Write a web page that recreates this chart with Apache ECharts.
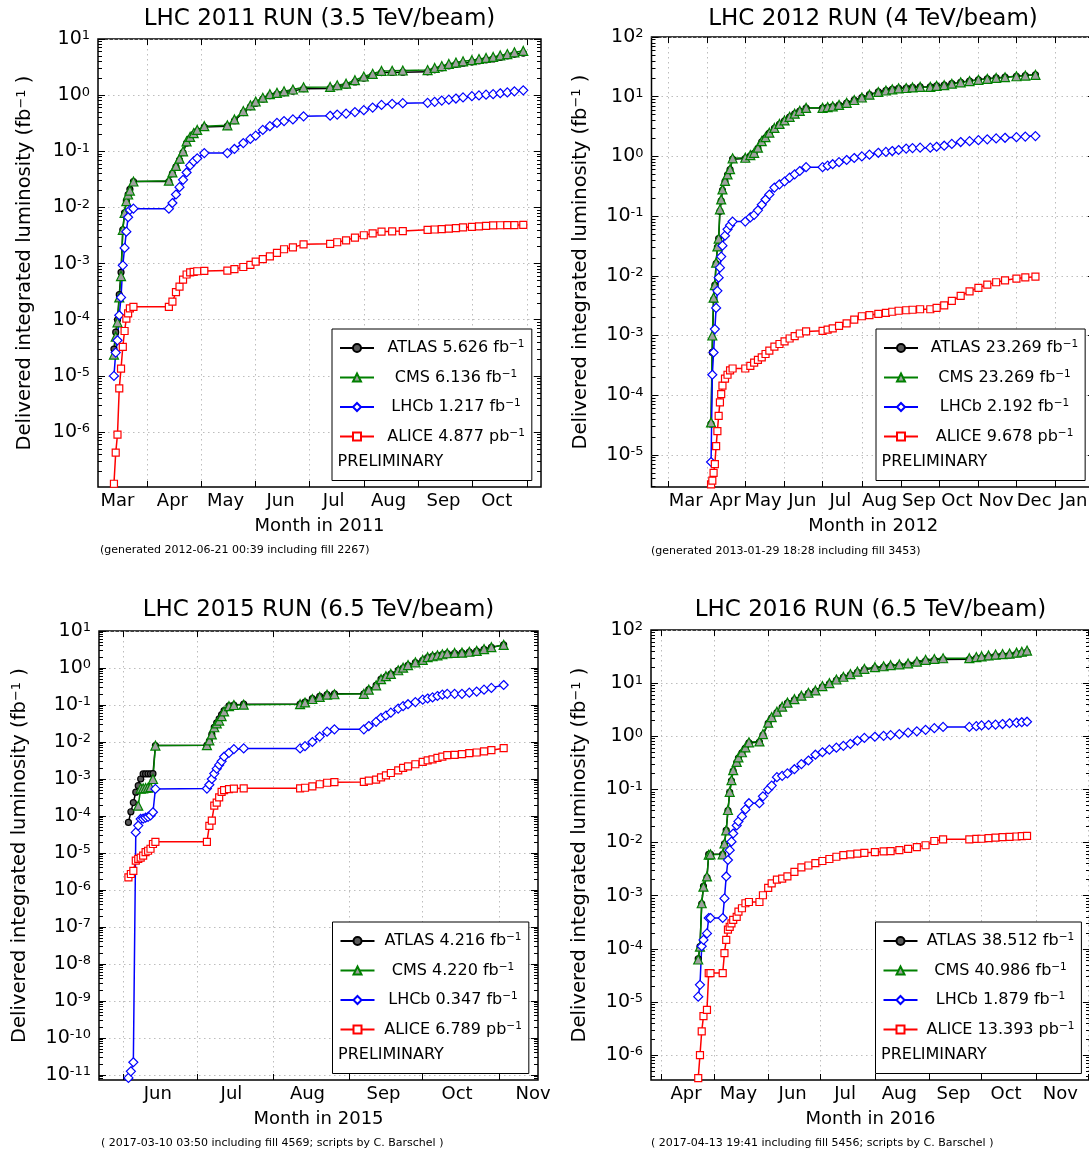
<!DOCTYPE html>
<html>
<head>
<meta charset="utf-8">
<title>LHC delivered integrated luminosity</title>
<script src="https://cdn.jsdelivr.net/npm/echarts@6/dist/echarts.min.js"></script>
<style>
html, body { margin: 0; padding: 0; background: #fff; }
#main { width: 1089px; height: 1153px; }
</style>
</head>
<body>
<div id="main"></div>
<script>
var MONTHS = ['Jan', 'Feb', 'Mar', 'Apr', 'May', 'Jun', 'Jul', 'Aug', 'Sep', 'Oct', 'Nov', 'Dec'];
var FONT = "'DejaVu Sans', sans-serif";

// fill dates (MM-DD) and cumulative delivered luminosity (fb^-1)
var days2011 = ['03-13','03-14','03-15','03-16','03-17','03-18','03-19','03-20','03-21','03-22','03-24',
    '04-13','04-15','04-17','04-19','04-21','04-23','04-25','04-27','04-29','05-03',
    '05-16','05-20','05-25','05-29','06-01','06-05','06-09','06-13','06-17','06-22','06-28',
    '07-13','07-17','07-22','07-27','08-01','08-06','08-11','08-17','08-23',
    '09-06','09-10','09-14','09-18','09-22','09-26','10-01','10-05','10-09','10-13','10-17','10-21','10-25','10-30'];
var atlas2011 = [3e-5,6e-5,1e-4,2.8e-4,7e-4,4e-3,8e-3,1.3e-2,1.7e-2,2.1e-2,2.9e-2,
    2.9e-2,4e-2,5.3e-2,7e-2,0.095,0.14,0.17,0.2,0.23,0.27,
    0.28,0.35,0.49,0.62,0.72,0.85,0.98,1.04,1.1,1.18,1.3,
    1.32,1.41,1.5,1.72,2.0,2.25,2.52,2.54,2.57,
    2.6,2.83,3.06,3.33,3.52,3.7,3.88,4.06,4.24,4.42,4.7,4.98,5.33,5.626];
var cms2011 = [2.4e-5,5e-5,9e-5,2.5e-4,6e-4,4e-3,8e-3,1.3e-2,1.7e-2,2e-2,2.9e-2,
    3.0e-2,4.2e-2,5.5e-2,7.4e-2,0.1,0.15,0.18,0.21,0.24,0.28,
    0.29,0.37,0.52,0.66,0.77,0.9,1.04,1.1,1.17,1.26,1.38,
    1.4,1.5,1.6,1.85,2.15,2.4,2.7,2.72,2.75,
    2.8,3.05,3.3,3.6,3.8,4.0,4.2,4.4,4.6,4.8,5.1,5.4,5.8,6.136];
var lhcb2011 = [1e-5,2.6e-5,4.3e-5,1.2e-4,2.5e-4,9.3e-4,1.9e-3,3.7e-3,6.7e-3,9e-3,9.5e-3,
    9.5e-3,0.012,0.017,0.023,0.031,0.042,0.056,0.066,0.075,0.093,
    0.093,0.11,0.14,0.166,0.19,0.24,0.28,0.32,0.345,0.37,0.42,
    0.43,0.45,0.47,0.5,0.54,0.6,0.67,0.7,0.72,
    0.73,0.76,0.8,0.83,0.87,0.91,0.96,0.99,1.02,1.04,1.08,1.12,1.17,1.217];
var alice2011 = [1.2e-7,4.3e-7,9e-7,6e-6,1.35e-5,3.3e-5,6.3e-5,1.05e-4,1.3e-4,1.6e-4,1.7e-4,
    1.7e-4,2.1e-4,3.1e-4,3.9e-4,5.2e-4,6.4e-4,7e-4,7.1e-4,7.3e-4,7.4e-4,
    7.5e-4,8e-4,8.7e-4,9.5e-4,1.08e-3,1.2e-3,1.35e-3,1.55e-3,1.8e-3,1.95e-3,2.2e-3,
    2.25e-3,2.4e-3,2.6e-3,2.9e-3,3.2e-3,3.45e-3,3.7e-3,3.75e-3,3.8e-3,
    4.0e-3,4.05e-3,4.1e-3,4.2e-3,4.3e-3,4.4e-3,4.5e-3,4.6e-3,4.7e-3,4.8e-3,4.82e-3,4.84e-3,4.86e-3,4.877e-3];
var names2011 = ['ATLAS 5.626 fb', 'CMS 6.136 fb', 'LHCb 1.217 fb', 'ALICE 4.877 pb'];

var days2012 = ['04-04','04-05','04-06','04-07','04-08','04-09','04-10','04-11','04-12','04-13',
    '04-15','04-17','04-19','04-21','05-01','05-05','05-08','05-11','05-14','05-17',
    '05-20','05-24','05-28','06-01','06-05','06-09','06-13','06-18','07-01','07-05',
    '07-09','07-14','07-20','07-26','08-01','08-07','08-14','08-20','08-25','08-30',
    '09-05','09-10','09-16','09-24','09-29','10-05','10-11','10-18','10-25','11-01',
    '11-08','11-15','11-22','12-01','12-08','12-16'];
var atlas2012 = [3.3e-5,5.2e-4,4e-3,7e-3,0.016,0.03,0.042,0.12,0.18,0.27,
    0.38,0.49,0.6,0.9,0.92,1.02,1.12,1.37,1.76,2.05,
    2.45,2.95,3.45,3.95,4.55,5.15,5.75,6.45,6.45,6.65,
    6.85,7.25,7.85,8.75,9.65,10.8,12.0,12.7,13.3,13.8,
    14.0,14.3,14.6,14.6,15.2,15.6,16.5,17.4,18.3,19.2,
    19.9,20.6,21.2,22.0,22.6,23.269];
var cms2012 = [3.5e-5,1e-3,4.3e-3,7e-3,0.0166,0.031,0.042,0.13,0.19,0.28,
    0.39,0.5,0.61,0.93,0.95,1.05,1.15,1.4,1.8,2.1,
    2.5,3.0,3.5,4.0,4.6,5.2,5.8,6.5,6.5,6.7,
    6.9,7.3,7.9,8.8,9.7,10.8,12.0,12.7,13.3,13.8,
    14.0,14.3,14.6,14.6,15.2,15.6,16.5,17.4,18.3,19.2,
    19.9,20.6,21.2,22.0,22.6,23.269];
var lhcb2012 = [7.6e-6,2.2e-4,5.2e-4,1.28e-3,2.9e-3,5.6e-3,9.3e-3,0.0137,0.021,0.032,
    0.047,0.06,0.07,0.081,0.081,0.095,0.105,0.125,0.155,0.19,
    0.23,0.3,0.34,0.38,0.44,0.5,0.57,0.66,0.66,0.7,
    0.74,0.8,0.87,0.94,1.0,1.07,1.15,1.19,1.23,1.28,
    1.35,1.38,1.4,1.4,1.45,1.51,1.62,1.74,1.8,1.87,
    1.93,2.0,2.05,2.1,2.15,2.192];
var alice2012 = [3.2e-6,3.7e-6,5e-6,7e-6,1.4e-5,2.5e-5,4.5e-5,7.6e-5,1.04e-4,1.45e-4,
    1.9e-4,2.2e-4,2.6e-4,2.8e-4,2.8e-4,3.1e-4,3.5e-4,3.9e-4,4.3e-4,4.9e-4,
    5.6e-4,6.5e-4,7.2e-4,8e-4,8.9e-4,9.8e-4,1.08e-3,1.17e-3,1.2e-3,1.25e-3,
    1.32e-3,1.45e-3,1.6e-3,1.85e-3,2.1e-3,2.2e-3,2.3e-3,2.4e-3,2.5e-3,2.6e-3,
    2.65e-3,2.7e-3,2.75e-3,2.75e-3,2.9e-3,3.2e-3,3.8e-3,4.6e-3,5.5e-3,6.3e-3,
    7.1e-3,7.8e-3,8.4e-3,9e-3,9.4e-3,9.678e-3];
var names2012 = ['ATLAS 23.269 fb', 'CMS 23.269 fb', 'LHCb 2.192 fb', 'ALICE 9.678 pb'];

var days2015 = ['06-03','06-04','06-05','06-06','06-07','06-08','06-09','06-10','06-11','06-12',
    '06-13','06-14','07-05','07-06','07-07','07-08','07-09','07-10','07-11','07-12',
    '07-14','07-16','07-20','08-12','08-14','08-17','08-20','08-23','08-26','09-07',
    '09-09','09-12','09-14','09-16','09-18','09-21','09-23','09-25','09-28','10-01',
    '10-03','10-05','10-07','10-09','10-11','10-14','10-17','10-20','10-23','10-26',
    '10-29','11-03'];
var atlas2015 = [6.7e-5,1.3e-4,2.3e-4,4.4e-4,6.6e-4,1e-3,1.37e-3,1.37e-3,1.38e-3,1.38e-3,
    1.39e-3,8e-3,8.1e-3,0.0105,0.016,0.025,0.033,0.042,0.055,0.07,
    0.095,0.1,0.105,0.105,0.12,0.148,0.17,0.19,0.2,0.2,
    0.26,0.34,0.5,0.58,0.68,0.86,1.0,1.18,1.4,1.62,
    1.9,2.05,2.15,2.3,2.45,2.5,2.55,2.7,2.85,3.2,
    3.6,4.216];
var cms2015 = [null,null,null,null,1.9e-4,5.5e-4,5.6e-4,5.7e-4,5.8e-4,6e-4,
    1e-3,8e-3,8.2e-3,0.011,0.016,0.025,0.032,0.038,0.05,0.067,
    0.093,0.1,0.102,0.105,0.117,0.145,0.165,0.19,0.195,0.2,
    0.26,0.34,0.5,0.6,0.69,0.87,1.02,1.2,1.42,1.65,
    1.96,2.08,2.2,2.35,2.5,2.55,2.6,2.75,2.9,3.25,
    3.65,4.22];
var lhcb2015 = [8.3e-12,1.25e-11,2.2e-11,3.6e-5,5.5e-5,8.3e-5,8.5e-5,9e-5,9.5e-5,1.03e-4,
    1.26e-4,5.4e-4,5.5e-4,7e-4,1e-3,1.4e-3,1.9e-3,2.4e-3,3e-3,4e-3,
    5.1e-3,6.4e-3,6.7e-3,6.7e-3,7.7e-3,0.01,0.014,0.019,0.022,0.022,
    0.027,0.035,0.045,0.052,0.062,0.08,0.093,0.105,0.12,0.14,
    0.15,0.16,0.175,0.19,0.2,0.2,0.2,0.215,0.23,0.26,
    0.29,0.347];
var alice2015 = [2.2e-6,2.7e-6,3.3e-6,6.2e-6,6.9e-6,7.5e-6,8.5e-6,1.05e-5,1.15e-5,1.3e-5,
    1.75e-5,2e-5,2e-5,5.4e-5,7.5e-5,1.9e-4,2.3e-4,3.2e-4,4.5e-4,5e-4,
    5.3e-4,5.5e-4,5.6e-4,5.6e-4,5.8e-4,6.3e-4,7.2e-4,7.9e-4,8.2e-4,8.3e-4,
    9e-4,9.6e-4,1.1e-3,1.25e-3,1.45e-3,1.7e-3,2e-3,2.2e-3,2.5e-3,2.9e-3,
    3.2e-3,3.4e-3,3.7e-3,4e-3,4.4e-3,4.5e-3,4.7e-3,5e-3,5.2e-3,5.6e-3,
    6e-3,6.789e-3];
var names2015 = ['ATLAS 4.216 fb', 'CMS 4.220 fb', 'LHCb 0.347 fb', 'ALICE 6.789 pb'];

var days2016 = ['04-22','04-23','04-24','04-25','04-27','04-28','04-29','05-06','05-07','05-08',
    '05-09','05-10','05-11','05-12','05-14','05-15','05-17','05-19','05-21','05-27',
    '05-29','06-01','06-03','06-06','06-09','06-12','06-16','06-20','06-24','06-28',
    '07-02','07-06','07-10','07-14','07-18','07-22','07-26','08-01','08-06','08-10',
    '08-15','08-20','08-25','08-30','09-04','09-09','09-24','09-28','10-01','10-05',
    '10-09','10-13','10-17','10-21','10-24','10-27'];
var atlas2016 = [6.5e-5,1.1e-4,7e-4,1.5e-3,2.2e-3,6e-3,6e-3,6e-3,9.5e-3,0.017,
    0.04,0.088,0.145,0.22,0.32,0.39,0.49,0.6,0.75,0.78,
    1.05,1.75,2.2,2.8,3.5,4.2,4.85,5.6,6.4,7.1,
    8.5,9.7,11.3,12.8,14.3,15.9,17.9,19.2,20.0,21.0,
    21.6,22.5,24.4,26.3,27.2,28.0,28.1,29.5,30.4,31.5,
    32.7,33.4,34.0,35.4,36.8,38.512];
var cms2016 = [6.3e-5,1.1e-4,7.2e-4,1.48e-3,2.3e-3,5.9e-3,6e-3,6e-3,9.6e-3,0.017,
    0.041,0.09,0.15,0.23,0.33,0.4,0.5,0.62,0.77,0.8,
    1.1,1.8,2.3,2.9,3.6,4.3,5.0,5.8,6.6,7.3,
    8.8,10.0,11.7,13.2,14.8,16.5,18.6,20.0,20.8,21.8,
    22.5,23.5,25.5,27.5,28.5,29.4,29.5,31,32,33.2,
    34.5,35.3,36.0,37.5,39,40.986];
var lhcb2016 = [1.26e-5,2.1e-5,1.12e-4,1.47e-4,1.95e-4,3.8e-4,3.8e-4,3.8e-4,8.9e-4,2.3e-3,
    4.7e-3,7.2e-3,0.0104,0.0148,0.021,0.025,0.031,0.042,0.055,0.055,
    0.074,0.1,0.118,0.17,0.18,0.2,0.24,0.3,0.35,0.45,
    0.5,0.56,0.61,0.66,0.72,0.83,0.93,0.98,1.02,1.05,
    1.1,1.17,1.24,1.32,1.42,1.5,1.5,1.55,1.6,1.63,
    1.66,1.7,1.76,1.8,1.84,1.879];
var alice2016 = [3.7e-7,1e-6,2.8e-6,5.4e-6,7.1e-6,3.5e-5,3.5e-5,3.5e-5,8.3e-5,1.48e-4,
    2.3e-4,2.6e-4,3e-4,3.5e-4,4e-4,5e-4,5.8e-4,7.2e-4,7.6e-4,7.6e-4,
    1.02e-3,1.4e-3,1.7e-3,2e-3,2.1e-3,2.3e-3,2.8e-3,3.4e-3,3.7e-3,4.1e-3,
    4.5e-3,4.9e-3,5.4e-3,5.8e-3,6e-3,6.2e-3,6.4e-3,6.6e-3,6.8e-3,6.9e-3,
    7.2e-3,7.6e-3,8.2e-3,8.9e-3,0.0107,0.0115,0.0115,0.0117,0.0118,0.0121,
    0.0124,0.0126,0.0128,0.013,0.0132,0.013393];
var names2016 = ['ATLAS 38.512 fb', 'CMS 40.986 fb', 'LHCb 1.879 fb', 'ALICE 13.393 pb'];

var runs = [
    {year: 2011, title: 'LHC 2011 RUN (3.5 TeV/beam)', note: '(generated 2012-06-21 00:39 including fill 2267)',
        days: days2011, lumi: [atlas2011, cms2011, lhcb2011, alice2011], names: names2011,
        xMin: '2011-03-04', xMax: '2011-11-09', yMin: 1.05e-7, yMax: 10},
    {year: 2012, title: 'LHC 2012 RUN (4 TeV/beam)', note: '(generated 2013-01-29 18:28 including fill 3453)',
        days: days2012, lumi: [atlas2012, cms2012, lhcb2012, alice2012], names: names2012,
        xMin: '2012-02-17', xMax: '2013-02-01', yMin: 2.9e-6, yMax: 100},
    {year: 2015, title: 'LHC 2015 RUN (6.5 TeV/beam)', note: '( 2017-03-10 03:50 including fill 4569; scripts by C. Barschel )',
        days: days2015, lumi: [atlas2015, cms2015, lhcb2015, alice2015], names: names2015,
        xMin: '2015-05-22', xMax: '2015-11-17', yMin: 7.3e-12, yMax: 10},
    {year: 2016, title: 'LHC 2016 RUN (6.5 TeV/beam)', note: '( 2017-04-13 19:41 including fill 5456; scripts by C. Barschel )',
        days: days2016, lumi: [atlas2016, cms2016, lhcb2016, alice2016], names: names2016,
        xMin: '2016-03-26', xMax: '2016-12-02', yMin: 3.4e-7, yMax: 100}
];

// panel layout in pixels
var layout = [
    {left: 98, top: 39, width: 443, height: 448, nameGap: 63, legendLeft: 332, legendTop: 329, textWidth: 154, titleX: 319.5, titleY: 8, noteX: 100, noteY: 545},
    {left: 651.5, top: 37, width: 443.5, height: 450, nameGap: 61, legendLeft: 876, legendTop: 329, textWidth: 163, titleX: 873, titleY: 8, noteX: 651, noteY: 546},
    {left: 99, top: 631, width: 439, height: 449, nameGap: 69, legendLeft: 332.5, legendTop: 922, textWidth: 147, titleX: 318.5, titleY: 599, noteX: 101, noteY: 1138},
    {left: 651, top: 630, width: 439, height: 450, nameGap: 61, legendLeft: 875.5, legendTop: 922, textWidth: 156, titleX: 870.5, titleY: 599, noteX: 651, noteY: 1138}
];

var styles = [
    {symbol: 'circle', size: 6, line: '#000000', fill: '#5a5a5a'},
    {symbol: 'triangle', size: 9, line: '#008000', fill: '#a0a0a0'},
    {symbol: 'diamond', size: 9, line: '#0000ff', fill: '#ffffff'},
    {symbol: 'rect', size: 7, line: '#ff0000', fill: '#ffffff'}
];

function toTime(s) {
    var p = s.split('-');
    return Date.UTC(+p[0], +p[1] - 1, +p[2]);
}

function monthTicks(min, max, day) {
    var out = [];
    var d = new Date(min);
    var y = d.getUTCFullYear(), m = d.getUTCMonth();
    for (var i = 0; i < 16; i++) {
        var t = Date.UTC(y, m + i, day);
        if (t >= min && t <= max) out.push(t);
    }
    return out;
}

function decades(min, max) {
    var out = [];
    for (var e = Math.floor(Math.log10(min)); e <= Math.ceil(Math.log10(max)); e++) {
        var v = Math.pow(10, e);
        if (v >= min && v <= max) out.push(v);
    }
    return out;
}

function minorDecades(min, max) {
    var out = [];
    for (var e = Math.floor(Math.log10(min)); e <= Math.ceil(Math.log10(max)); e++) {
        for (var k = 2; k < 10; k++) {
            var v = k * Math.pow(10, e);
            if (v >= min && v <= max) out.push(v);
        }
    }
    return out;
}

var gridLine = {show: true, lineStyle: {color: '#bdbdbd', type: [1.5, 3.5], width: 1}};
var tickStyle = {color: '#000', width: 1};

var option = {
    animation: false,
    backgroundColor: '#fff',
    textStyle: {fontFamily: FONT},
    title: [],
    grid: [],
    xAxis: [],
    yAxis: [],
    legend: [],
    series: [],
    graphic: []
};

runs.forEach(function (run, i) {
    var L = layout[i];
    var xMin = toTime(run.xMin), xMax = toTime(run.xMax);
    var starts = monthTicks(xMin, xMax, 1);
    var mids = monthTicks(xMin, xMax, 15);
    var majors = decades(run.yMin, run.yMax);
    var minors = minorDecades(run.yMin, run.yMax);

    option.title.push({
        text: run.title, left: L.titleX, top: L.titleY, textAlign: 'center', padding: 0,
        textStyle: {fontSize: 23, fontWeight: 'normal', color: '#000', fontFamily: FONT}
    });
    option.title.push({
        text: run.note, left: L.noteX, top: L.noteY, padding: 0,
        textStyle: {fontSize: 11, fontWeight: 'normal', color: '#000', fontFamily: FONT}
    });

    option.grid.push({
        left: L.left, top: L.top, width: L.width, height: L.height,
        show: true, borderColor: '#000', borderWidth: 1.5, backgroundColor: 'transparent',
        containLabel: false, outerBoundsMode: 'none'
    });

    // time in ms on a value axis, labelled by month
    option.xAxis.push({
        type: 'value', gridIndex: i, position: 'bottom', min: xMin, max: xMax, scale: true,
        axisLine: {show: false},
        axisTick: {show: true, inside: true, length: 6, customValues: starts, lineStyle: tickStyle},
        axisLabel: {
            customValues: mids, margin: 5, fontSize: 18, color: '#000', fontFamily: FONT,
            formatter: function (v) { return MONTHS[new Date(v).getUTCMonth()]; }
        },
        splitLine: gridLine,
        name: 'Month in ' + run.year, nameLocation: 'middle', nameGap: 30,
        nameTextStyle: {fontSize: 18, color: '#000', fontFamily: FONT}
    });
    option.xAxis.push({
        type: 'value', gridIndex: i, position: 'top', min: xMin, max: xMax, scale: true,
        axisLine: {show: false},
        axisTick: {show: true, inside: true, length: 6, customValues: starts, lineStyle: tickStyle},
        axisLabel: {show: false},
        splitLine: {show: false}
    });

    var supRich = {
        b: {fontSize: 19, color: '#000', fontFamily: FONT},
        s: {fontSize: 13, color: '#000', fontFamily: FONT, verticalAlign: 'top'}
    };
    option.yAxis.push({
        type: 'log', logBase: 10, gridIndex: i, position: 'left', min: run.yMin, max: run.yMax,
        axisLine: {show: false},
        axisTick: {show: true, inside: true, length: 7, customValues: majors, lineStyle: tickStyle},
        axisLabel: {
            customValues: majors, margin: 8, color: '#000', rich: supRich,
            formatter: function (v) { return '{b|10}{s|' + Math.round(Math.log10(v)) + '}'; }
        },
        splitLine: gridLine,
        name: 'Delivered integrated luminosity (fb{s|\u22121} )', nameLocation: 'middle', nameGap: L.nameGap,
        nameTextStyle: {
            fontSize: 19.5, color: '#000', fontFamily: FONT,
            rich: {s: {fontSize: 13, color: '#000', fontFamily: FONT, verticalAlign: 'top'}}
        }
    });
    [['left', minors, 4], ['right', majors, 7], ['right', minors, 4]].forEach(function (t) {
        option.yAxis.push({
            type: 'log', logBase: 10, gridIndex: i, position: t[0], min: run.yMin, max: run.yMax,
            axisLine: {show: false},
            axisTick: {show: true, inside: true, length: t[2], customValues: t[1], lineStyle: tickStyle},
            axisLabel: {show: false},
            splitLine: {show: false}
        });
    });

    run.lumi.forEach(function (values, k) {
        var st = styles[k];
        var data = [];
        run.days.forEach(function (d, j) {
            if (values[j] != null) data.push([toTime(run.year + '-' + d), values[j]]);
        });
        option.series.push({
            type: 'line', name: run.names[k], xAxisIndex: 2 * i, yAxisIndex: 4 * i,
            data: data, symbol: st.symbol, symbolSize: st.size, showSymbol: true, showAllSymbol: true,
            lineStyle: {color: st.line, width: 1.5},
            itemStyle: {color: st.fill, borderColor: st.line, borderWidth: 1.2},
            emphasis: {disabled: true}
        });
    });

    option.legend.push({
        orient: 'vertical', left: L.legendLeft, top: L.legendTop,
        padding: [10, 7, 36, 7], itemGap: 12.5, itemWidth: 34, itemHeight: 10,
        backgroundColor: '#fff', borderColor: '#000', borderWidth: 1, borderRadius: 0,
        selectedMode: false, data: run.names,
        formatter: function (n) { return '{t|' + n + '}{s|\u22121}'; },
        textStyle: {
            width: L.textWidth, fontSize: 16, color: '#000', fontFamily: FONT,
            rich: {
                t: {align: 'center', fontSize: 16, lineHeight: 18, color: '#000', fontFamily: FONT},
                s: {align: 'center', fontSize: 10.5, color: '#000', fontFamily: FONT, verticalAlign: 'top'}
            }
        }
    });

    option.graphic.push({
        type: 'text', x: L.legendLeft + 5.5, y: L.legendTop + 133, z: 100,
        style: {text: 'PRELIMINARY', fontSize: 16, fontFamily: FONT, fill: '#000', verticalAlign: 'middle'}
    });
});

var chart = echarts.init(document.getElementById('main'));
chart.setOption(option);
</script>
</body>
</html>
